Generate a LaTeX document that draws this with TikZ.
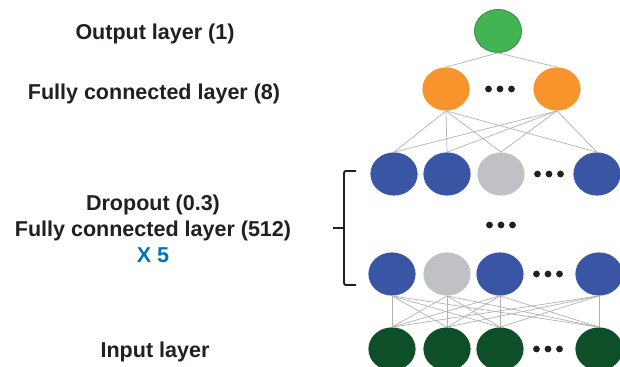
\documentclass[tikz,border=0pt]{standalone}
\usepackage{fontspec}
\setmainfont{Liberation Sans}
\usepackage{xcolor}
\usepackage{tikz}
\usetikzlibrary{shapes.geometric,positioning,calc}
\definecolor{outgreen}{RGB}{66,180,84}
\definecolor{outedge}{RGB}{40,120,60}
\definecolor{fcorange}{RGB}{247,148,43}
\definecolor{hidblue}{RGB}{57,85,164}
\definecolor{dropgray}{RGB}{192,193,196}
\definecolor{ingreen}{RGB}{13,79,40}
\definecolor{txtdark}{RGB}{35,31,32}
\definecolor{xblue}{RGB}{0,114,188}
\definecolor{wiregray}{RGB}{178,178,180}

\begin{document}
\begin{tikzpicture}[
  x=0.025cm, y=-0.025cm,
  every node/.style={font=\fontsize{15.3}{18.6}\selectfont\bfseries, text=txtdark},
  unit/.style={ellipse, minimum width=1.18cm, minimum height=1.08cm, inner sep=0pt},
  outunit/.style={unit, fill=outgreen, draw=outedge, line width=0.4pt},
  fcunit/.style={unit, fill=fcorange},
  hidunit/.style={unit, fill=hidblue},
  dropunit/.style={unit, fill=dropgray},
  inunit/.style={unit, fill=ingreen},
  wire/.style={draw=wiregray, line width=0.5pt},
  brace/.style={line width=1.4pt, txtdark, rounded corners=1.5pt},
]
\useasboundingbox (0,0) rectangle (620,367);

%% ── Layer labels ──────────────────────────────────────────────────────────
\node (lblOut) at (155,34)  {Output layer (1)};
\node (lblFC)  at (154,94)  {Fully connected layer (8)};
\node[align=center] (lblHid) at (153,229)
  {Dropout (0.3)\\Fully connected layer (512)\\{\color{xblue}X 5}};
\node (lblIn)  at (155,352) {Input layer};

%% ── Units ─────────────────────────────────────────────────────────────────
\node[outunit] (out) at (498,31) {};

\node[fcunit] (fcA) at (446,89) {};
\node[fcunit] (fcB) at (557,89) {};

\node[hidunit]  (hA1) at (394,174) {};
\node[hidunit]  (hA2) at (447,174) {};
\node[dropunit] (hA3) at (501,174) {};
\node[hidunit]  (hA4) at (597,174) {};

\node[hidunit]  (hB1) at (392,274) {};
\node[dropunit] (hB2) at (447,274) {};
\node[hidunit]  (hB3) at (500,274) {};
\node[hidunit]  (hB4) at (599,274) {};

\node[inunit] (in1) at (392,349) {};
\node[inunit] (in2) at (447,349) {};
\node[inunit] (in3) at (500,349) {};
\node[inunit] (in4) at (599,349) {};

%% ── Ellipsis dots ─────────────────────────────────────────────────────────
\foreach \cx/\cy in {500/89, 549/174, 501/225, 548/274, 548/349}
  \foreach \dx in {-11.5,0,11.5}
    \fill[txtdark] (\cx+\dx,\cy) circle (3.4);

%% ── Connections ───────────────────────────────────────────────────────────
\foreach \f in {fcA,fcB}
  \draw[wire] (out.south) -- (\f.north);

\foreach \f in {fcA,fcB}
  \foreach \h in {hA1,hA2,hA3,hA4}
    \draw[wire] (\f.south) -- (\h.north);

\foreach \h in {hB1,hB2,hB3,hB4}
  \foreach \i in {in1,in2,in3,in4}
    \draw[wire] (\h.south) -- (\i.north);

%% ── Repeat brace ──────────────────────────────────────────────────────────
\coordinate (brTop) at (356,171);
\coordinate (brBot) at (356,285);
\coordinate (brTip) at (333,228);
\draw[brace] (brTop) -- (344,171) -- (344,285) -- (brBot);
\draw[brace] (344,228) -- (brTip);

\end{tikzpicture}
\end{document}
